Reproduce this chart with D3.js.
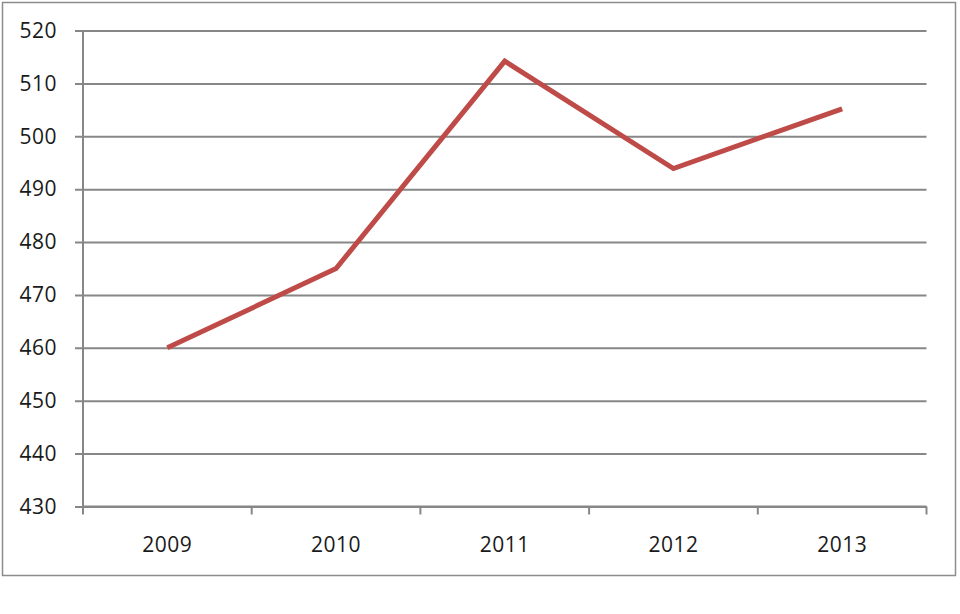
<!DOCTYPE html>
<html>
<head>
<meta charset="utf-8">
<script src="https://cdn.jsdelivr.net/npm/d3@7"></script>
<style>
  body { margin: 0; background: #fff; }
  svg { display: block; }
</style>
</head>
<body>
<svg></svg>
<script>
const years = ["2009", "2010", "2011", "2012", "2013"];
const values = [460, 475, 514.2, 493.9, 505.2];
const yTicks = [430, 440, 450, 460, 470, 480, 490, 500, 510, 520];

const width = 960;
const height = 614;
const margin = { left: 83, right: 33.5, top: 30.5, bottom: 107.5 };

let svg = d3.select("svg")
  .attr("width", width)
  .attr("height", height);

// outer frame
svg.append("rect")
  .attr("x", 2.5)
  .attr("y", 2.5)
  .attr("width", 953)
  .attr("height", 573)
  .attr("fill", "none")
  .attr("stroke", "#8c8c8c")
  .attr("stroke-width", 1.5);

let xScale = d3.scaleBand()
  .domain(years)
  .range([margin.left, width - margin.right]);

let yScale = d3.scaleLinear()
  .domain([430, 520])
  .range([height - margin.bottom, margin.top]);

// y axis with gridlines
let yAxis = d3.axisLeft(yScale)
  .tickValues(yTicks)
  .tickSize(-(width - margin.right - margin.left))
  .tickSizeOuter(0);

let yg = svg.append("g")
  .attr("transform", `translate(${margin.left}, 0)`)
  .call(yAxis);
yg.select(".domain").remove();
yg.selectAll(".tick line")
  .attr("x1", -8)
  .attr("stroke", "#878787")
  .attr("stroke-width", 2);
yg.selectAll(".tick text")
  .attr("x", -26)
  .style("font-family", "'Open Sans', sans-serif")
  .style("font-size", "21px")
  .style("letter-spacing", "0.5px")
  .attr("fill", "#1a1a1a");

// vertical axis line
svg.append("line")
  .attr("x1", margin.left).attr("x2", margin.left)
  .attr("y1", margin.top).attr("y2", height - margin.bottom)
  .attr("stroke", "#878787")
  .attr("stroke-width", 2);

// x axis: ticks at band edges
let xg = svg.append("g")
  .attr("transform", `translate(0, ${height - margin.bottom})`);
xg.append("line")
  .attr("x1", margin.left).attr("x2", width - margin.right)
  .attr("stroke", "#878787")
  .attr("stroke-width", 2);
let edges = years.map(d => xScale(d)).concat([xScale(years[years.length - 1]) + xScale.bandwidth()]);
xg.selectAll(".edge")
  .data(edges)
  .enter()
  .append("line")
    .attr("x1", d => d).attr("x2", d => d)
    .attr("y1", 0).attr("y2", 8)
    .attr("stroke", "#878787")
    .attr("stroke-width", 2);
xg.selectAll(".lbl")
  .data(years)
  .enter()
  .append("text")
    .attr("x", d => xScale(d) + xScale.bandwidth() / 2)
    .attr("y", 45)
    .attr("text-anchor", "middle")
    .style("font-family", "'Open Sans', sans-serif")
    .style("font-size", "21px")
    .style("letter-spacing", "0.5px")
    .attr("fill", "#1a1a1a")
    .text(d => d);

// data line
let line = d3.line()
  .x((d, i) => xScale(years[i]) + xScale.bandwidth() / 2)
  .y(d => yScale(d));

svg.append("path")
  .datum(values)
  .attr("d", line)
  .attr("fill", "none")
  .attr("stroke", "#be4b48")
  .attr("stroke-width", 5)
  .attr("stroke-linejoin", "miter");
</script>
</body>
</html>
